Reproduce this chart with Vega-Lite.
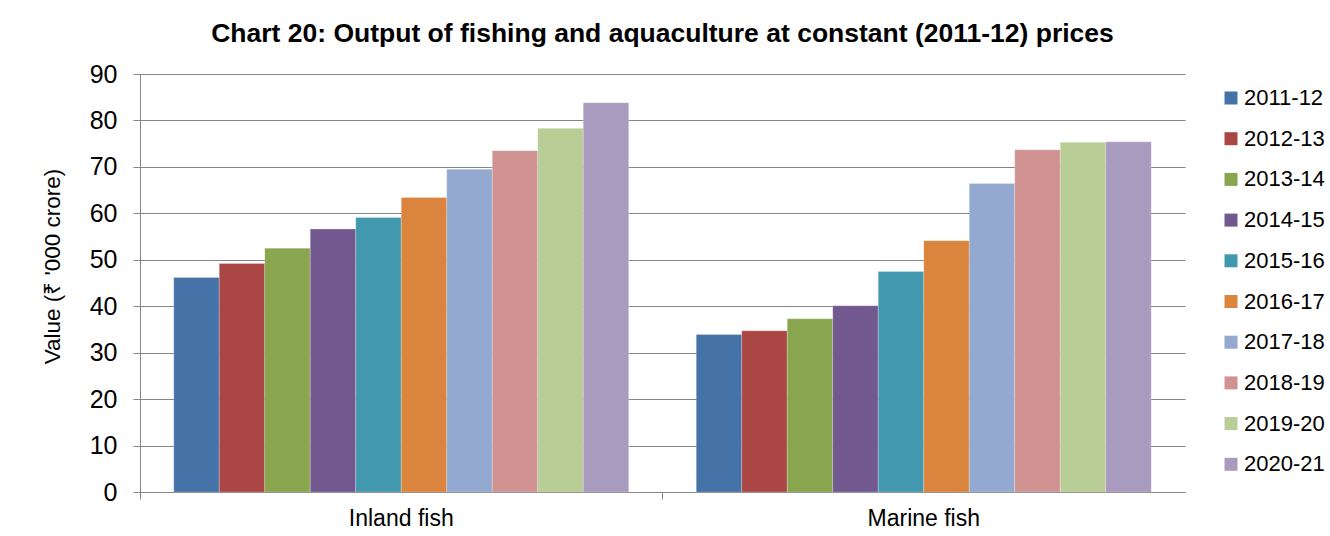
{
  "$schema": "https://vega.github.io/schema/vega-lite/v6.json",
  "width": 1045,
  "height": 418,
  "autosize": {"type": "none"},
  "padding": {"left": 140, "top": 74, "right": 145, "bottom": 44},
  "background": "white",
  "title": {
    "text": "Chart 20: Output of fishing and aquaculture at constant (2011-12) prices",
    "font": "Liberation Sans",
    "fontSize": 26.5,
    "fontWeight": "bold",
    "color": "black",
    "anchor": "middle",
    "offset": 15
  },
  "data": {
    "values": [
      {"group": "Inland fish", "year": "2011-12", "value": 46.2},
      {"group": "Inland fish", "year": "2012-13", "value": 49.2},
      {"group": "Inland fish", "year": "2013-14", "value": 52.5},
      {"group": "Inland fish", "year": "2014-15", "value": 56.6},
      {"group": "Inland fish", "year": "2015-16", "value": 59.1},
      {"group": "Inland fish", "year": "2016-17", "value": 63.4},
      {"group": "Inland fish", "year": "2017-18", "value": 69.5},
      {"group": "Inland fish", "year": "2018-19", "value": 73.5},
      {"group": "Inland fish", "year": "2019-20", "value": 78.3},
      {"group": "Inland fish", "year": "2020-21", "value": 83.8},
      {"group": "Marine fish", "year": "2011-12", "value": 33.9},
      {"group": "Marine fish", "year": "2012-13", "value": 34.7},
      {"group": "Marine fish", "year": "2013-14", "value": 37.3},
      {"group": "Marine fish", "year": "2014-15", "value": 40.1},
      {"group": "Marine fish", "year": "2015-16", "value": 47.5},
      {"group": "Marine fish", "year": "2016-17", "value": 54.1},
      {"group": "Marine fish", "year": "2017-18", "value": 66.4},
      {"group": "Marine fish", "year": "2018-19", "value": 73.7},
      {"group": "Marine fish", "year": "2019-20", "value": 75.3},
      {"group": "Marine fish", "year": "2020-21", "value": 75.4}
    ]
  },
  "mark": {"type": "bar", "stroke": "white", "strokeWidth": 0.4, "strokeOpacity": 0.6},
  "encoding": {
    "x": {
      "field": "group",
      "type": "nominal",
      "scale": {"paddingInner": 0, "paddingOuter": 0},
      "axis": {
        "title": null,
        "grid": false,
        "labelAngle": 0,
        "labelFont": "Liberation Sans",
        "labelFontSize": 23,
        "labelColor": "black",
        "labelPadding": 8,
        "domainColor": "#868686",
        "tickColor": "#868686",
        "tickSize": 7,
        "bandPosition": 0
      }
    },
    "xOffset": {"field": "year", "type": "nominal", "scale": {"paddingInner": 0, "paddingOuter": 0.742}},
    "y": {
      "field": "value",
      "type": "quantitative",
      "scale": {"domain": [0, 90], "nice": false},
      "axis": {
        "title": "Value (₹ '000 crore)",
        "titleFont": "Liberation Sans",
        "titleFontSize": 22.5,
        "titleFontWeight": "normal",
        "titleColor": "black",
        "titlePadding": 25,
        "titleY": 192,
        "values": [0, 10, 20, 30, 40, 50, 60, 70, 80, 90],
        "grid": true,
        "labelFont": "Liberation Sans",
        "labelFontSize": 25,
        "labelColor": "black",
        "labelPadding": 16,
        "tickSize": 7,
        "tickColor": "#868686",
        "domainColor": "#868686",
        "gridColor": "#868686",
        "gridWidth": 1
      }
    },
    "color": {
      "field": "year",
      "type": "nominal",
      "scale": {
        "range": ["#4572A7", "#AA4643", "#89A54E", "#71588F", "#4198AF", "#DB843D", "#93A9CF", "#D19392", "#B9CD96", "#A99BBD"]
      },
      "legend": {
        "title": null,
        "orient": "none",
        "legendX": 1080,
        "legendY": 13,
        "symbolType": "square",
        "symbolSize": 169,
        "symbolStrokeWidth": 0,
        "labelFont": "Liberation Sans",
        "labelFontSize": 22,
        "labelColor": "black",
        "labelOffset": 2,
        "rowPadding": 18.7
      }
    }
  },
  "config": {
    "view": {"stroke": null}
  }
}
